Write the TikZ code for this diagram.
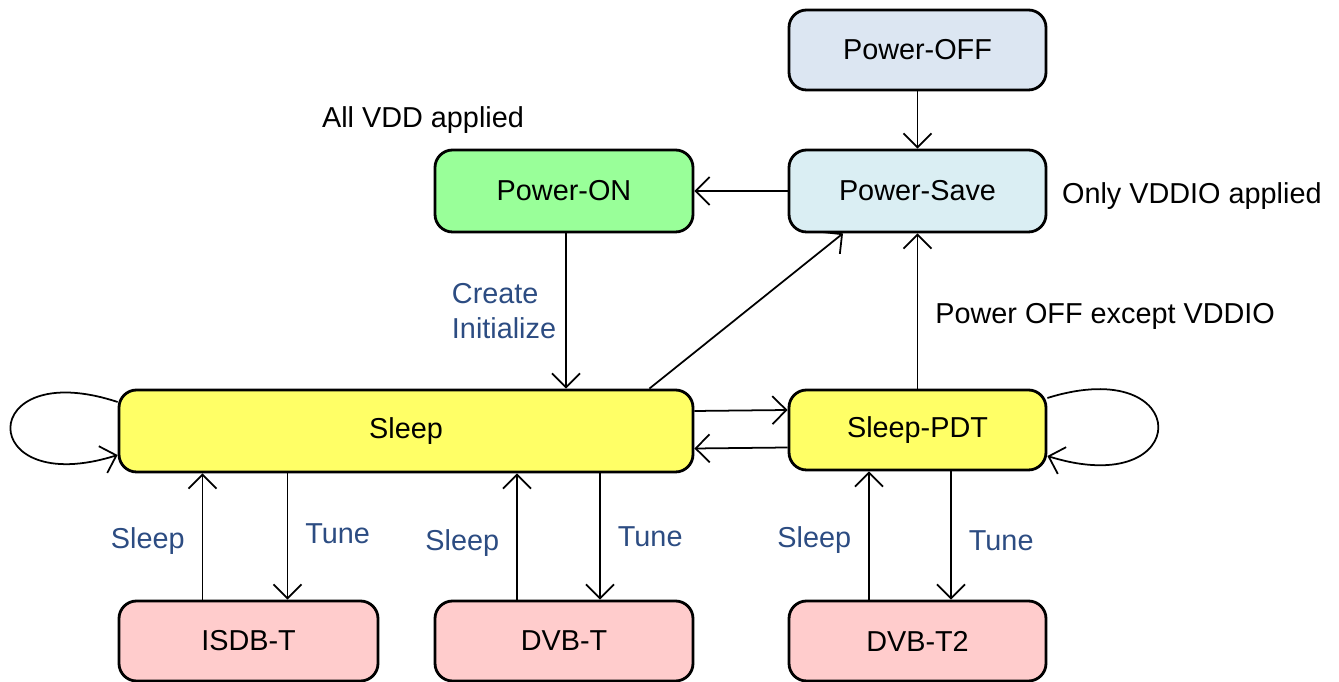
\documentclass[tikz,border=0pt]{standalone}
\usepackage{fontspec}
\setmainfont{Liberation Sans}
\usetikzlibrary{arrows.meta, positioning}
\definecolor{offblue}{RGB}{220, 230, 242}
\definecolor{saveblue}{RGB}{218, 238, 243}
\definecolor{ongreen}{RGB}{153, 255, 153}
\definecolor{sleepyellow}{RGB}{255, 255, 102}
\definecolor{tunepink}{RGB}{255, 204, 204}
\definecolor{lblblue}{RGB}{44, 76, 130}

\begin{document}
\begin{tikzpicture}[
        base/.style={draw, line width=0.8pt, rounded corners=5pt, align=center, font=\fontsize{8.2}{9.8}\selectfont, minimum width=2.57cm, minimum height=0.8cm},
        offstate/.style={base, fill=offblue},
        savestate/.style={base, fill=saveblue},
        onstate/.style={base, fill=ongreen},
        sleepstate/.style={base, fill=sleepyellow},
        tunestate/.style={base, fill=tunepink},
        arrow/.style={-{Straight Barb[length=1.4mm, width=2.8mm]}, line width=0.5pt},
        lbl/.style={font=\fontsize{8.2}{9.8}\selectfont, align=left, inner sep=2pt},
        blbl/.style={lbl, text=lblblue}
    ]
        \useasboundingbox (0,0) rectangle (13.39,-6.82);

        % Top rows
        \node (poff) [offstate] at (9.175, -0.50) {Power-OFF};
        \node (psave) [savestate, minimum height=0.82cm] at (9.175, -1.91) {Power-Save};
        \node (pon) [onstate, minimum height=0.82cm, minimum width=2.58cm] at (5.64, -1.91) {Power-ON};

        % Sleep row
        \node (sleep) [sleepstate, minimum width=5.74cm, minimum height=0.82cm] at (4.06, -4.31) {Sleep};
        \node (spdt) [sleepstate] at (9.175, -4.30) {Sleep-PDT};

        % Tuning row
        \node (isdb) [tunestate, minimum width=2.59cm] at (2.485, -6.41) {ISDB-T};
        \node (dvbt) [tunestate, minimum width=2.58cm] at (5.64, -6.41) {DVB-T};
        \node (dvbtt) [tunestate] at (9.175, -6.41) {DVB-T2};

        % Side texts
        \node [lbl] at (4.23, -1.20) {All VDD applied};
        \node [lbl, right=0.07cm of psave.east, yshift=-0.05cm] {Only VDDIO applied};

        % Arrows
        \draw [arrow] (poff) -- (psave);
        \draw [arrow] (psave) -- (pon);
        \draw [arrow] ([xshift=0.2mm]pon.south) -- ([xshift=0.2mm]pon.south |- sleep.north)
            node [blbl, midway, left, xshift=-0.2mm] {Create\\Initialize};
        \draw [arrow] ([xshift=-4.5mm]sleep.north east) -- ([xshift=-7.45mm]psave.south);
        \draw [arrow] (spdt) -- (psave)
            node [lbl, midway, right, xshift=1mm, yshift=-0.5mm] {Power OFF except VDDIO};
        \draw [arrow] ([yshift=2mm]sleep.east) -- ([yshift=2mm]spdt.west);
        \draw [arrow] ([yshift=-1.75mm]spdt.west) -- ([yshift=-1.75mm]sleep.east);

        % Self loops
        \draw [arrow] ([yshift=2.9mm]sleep.west) .. controls (-0.25, -3.55) and (-0.25, -5.0) .. ([yshift=-2.4mm]sleep.west);
        \draw [arrow] ([yshift=3.2mm]spdt.east) .. controls (11.95, -3.52) and (11.95, -5.02) .. ([yshift=-2.6mm]spdt.east);

        % Sleep / Tune pairs
        \draw [arrow] ([xshift=-4.6mm]isdb.north) -- ([xshift=-4.6mm]isdb.north |- sleep.south)
            node [blbl, midway, left, xshift=-1mm, yshift=-0.5mm] {Sleep};
        \draw [arrow] ([xshift=3.9mm]isdb.north |- sleep.south) -- ([xshift=3.9mm]isdb.north)
            node [blbl, midway, right, xshift=1mm, yshift=0.3mm] {Tune};
        \draw [arrow] ([xshift=-4.7mm]dvbt.north) -- ([xshift=-4.7mm]dvbt.north |- sleep.south)
            node [blbl, midway, left, xshift=-1mm, yshift=-0.7mm] {Sleep};
        \draw [arrow] ([xshift=3.6mm]dvbt.north |- sleep.south) -- ([xshift=3.6mm]dvbt.north)
            node [blbl, midway, right, xshift=1mm] {Tune};
        \draw [arrow] ([xshift=-4.85mm]dvbtt.north) -- ([xshift=-4.85mm]dvbtt.north |- spdt.south)
            node [blbl, midway, left, xshift=-1mm, yshift=-0.5mm] {Sleep};
        \draw [arrow] ([xshift=3.35mm]dvbtt.north |- spdt.south) -- ([xshift=3.35mm]dvbtt.north)
            node [blbl, midway, right, xshift=1mm, yshift=-0.5mm] {Tune};
    \end{tikzpicture}
\end{document}
